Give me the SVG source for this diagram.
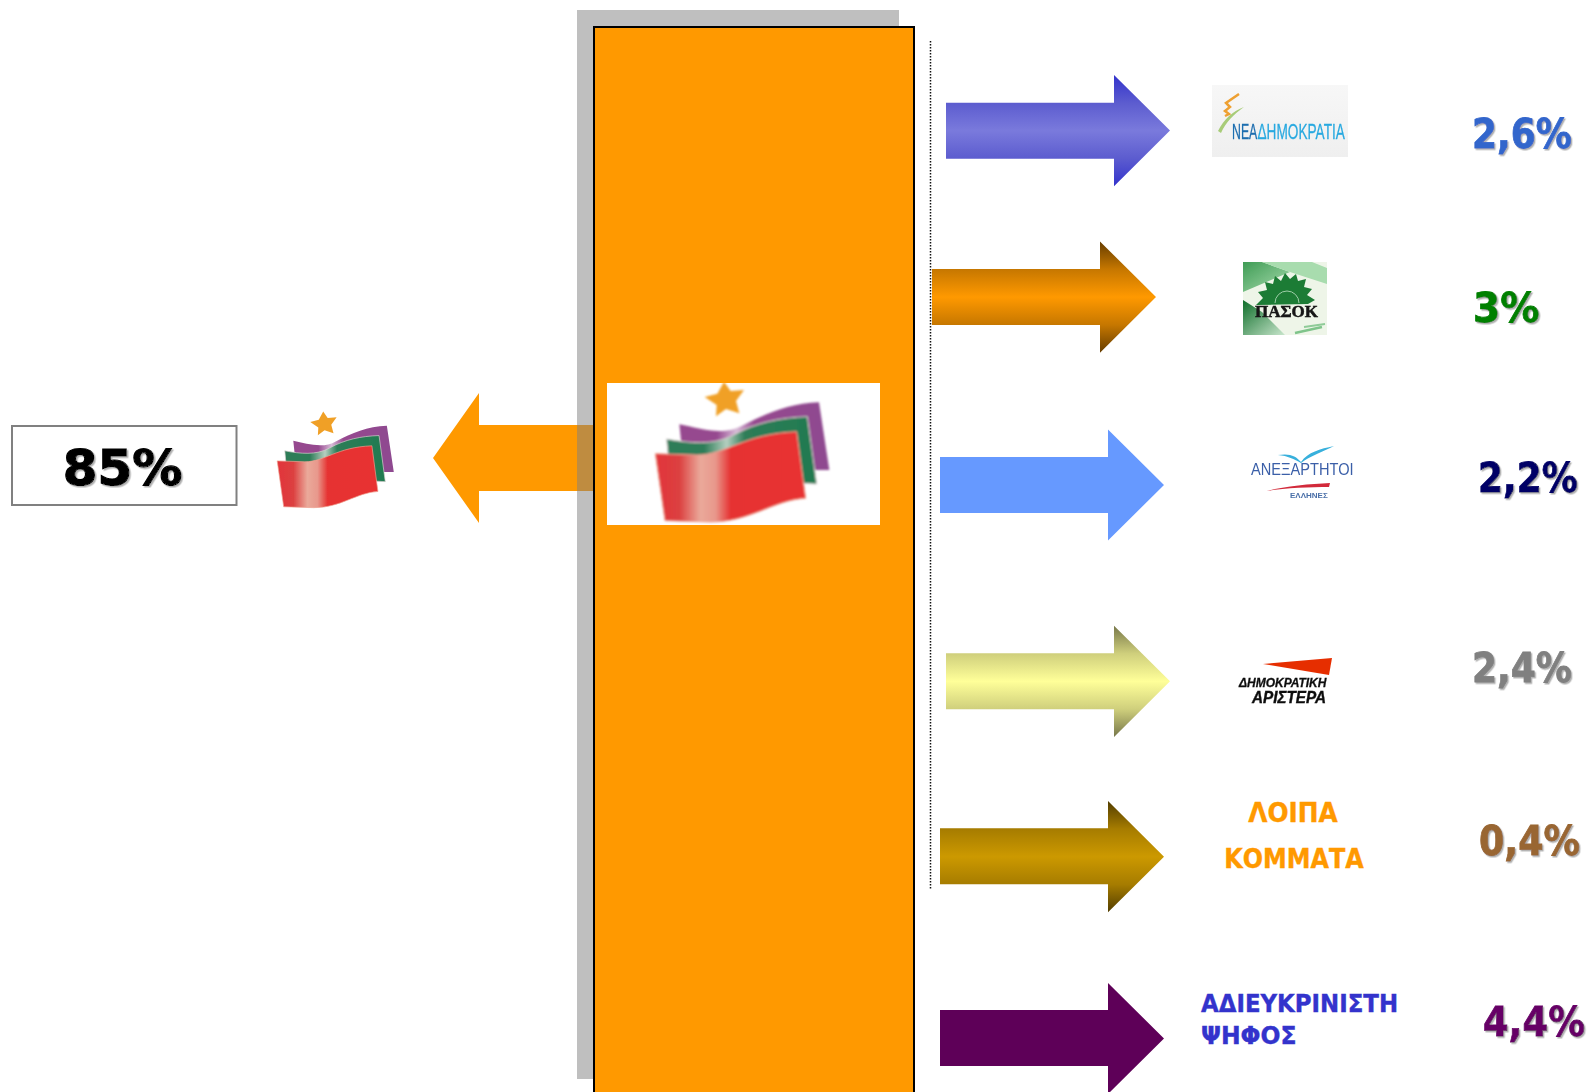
<svg xmlns="http://www.w3.org/2000/svg" width="1589" height="1092" viewBox="0 0 1589 1092">
<style>
.pct{font-family:"DejaVu Sans","Liberation Sans",sans-serif;font-weight:700;font-size:40px;fill:currentColor;stroke:currentColor;stroke-width:0.8px;filter:url(#sh)}
.lab{font-family:"DejaVu Sans","Liberation Sans",sans-serif;font-weight:700;fill:currentColor;stroke:currentColor;stroke-width:0.4px}
</style>
<defs>
<filter id="sh" x="-10%" y="-10%" width="125%" height="130%"><feDropShadow dx="1.500" dy="1.500" stdDeviation="0.5" flood-color="#b0b0b0"/></filter>
<filter id="soft" x="-5%" y="-5%" width="110%" height="110%"><feGaussianBlur stdDeviation="2.500"/></filter>
<filter id="soft2" x="-5%" y="-5%" width="110%" height="110%"><feGaussianBlur stdDeviation="0.4"/></filter>
<linearGradient id="g1" x1="0" y1="0" x2="0" y2="1"><stop offset="0" stop-color="#3333cc"/><stop offset="0.25" stop-color="#5c5ccf"/><stop offset="0.5" stop-color="#7a7adc"/><stop offset="0.75" stop-color="#5c5ccf"/><stop offset="1" stop-color="#3333cc"/></linearGradient>
<linearGradient id="g2" x1="0" y1="0" x2="0" y2="1"><stop offset="0" stop-color="#663d00"/><stop offset="0.25" stop-color="#c67700"/><stop offset="0.5" stop-color="#ff9900"/><stop offset="0.75" stop-color="#c67700"/><stop offset="1" stop-color="#663d00"/></linearGradient>
<linearGradient id="g4" x1="0" y1="0" x2="0" y2="1"><stop offset="0" stop-color="#77774a"/><stop offset="0.25" stop-color="#cfcf7c"/><stop offset="0.5" stop-color="#ffff99"/><stop offset="0.75" stop-color="#cfcf7c"/><stop offset="1" stop-color="#77774a"/></linearGradient>
<linearGradient id="g5" x1="0" y1="0" x2="0" y2="1"><stop offset="0" stop-color="#523d00"/><stop offset="0.25" stop-color="#a67c00"/><stop offset="0.5" stop-color="#cc9900"/><stop offset="0.75" stop-color="#a67c00"/><stop offset="1" stop-color="#523d00"/></linearGradient>
<linearGradient id="nd" x1="0" y1="0" x2="0" y2="1"><stop offset="0" stop-color="#f7f7f7"/><stop offset="1" stop-color="#efefef"/></linearGradient>
<linearGradient id="redg" gradientUnits="userSpaceOnUse" x1="166" y1="0" x2="617" y2="0"><stop offset="0" stop-color="#e2343a"/><stop offset="0.16" stop-color="#dc4040"/><stop offset="0.3" stop-color="#eaa99a"/><stop offset="0.4" stop-color="#e8988c"/><stop offset="0.5" stop-color="#e63333"/><stop offset="1" stop-color="#e83232"/></linearGradient>
<linearGradient id="purg" gradientUnits="userSpaceOnUse" x1="238" y1="0" x2="688" y2="0"><stop offset="0" stop-color="#96488f"/><stop offset="0.25" stop-color="#96488f"/><stop offset="0.38" stop-color="#d8bcd8"/><stop offset="0.5" stop-color="#96488f"/><stop offset="1" stop-color="#8e4a90"/></linearGradient>
<linearGradient id="grng" gradientUnits="userSpaceOnUse" x1="200" y1="0" x2="650" y2="0"><stop offset="0" stop-color="#2e7d58"/><stop offset="0.25" stop-color="#2e7d58"/><stop offset="0.4" stop-color="#b5cfc0"/><stop offset="0.52" stop-color="#2e7d58"/><stop offset="1" stop-color="#217a50"/></linearGradient>
<linearGradient id="pg1" x1="0" y1="0" x2="1" y2="1"><stop offset="0" stop-color="#3f9c55"/><stop offset="1" stop-color="#a8dcae"/></linearGradient>
<linearGradient id="pg2" x1="0" y1="0" x2="1" y2="1"><stop offset="0" stop-color="#0f6e2a"/><stop offset="1" stop-color="#c8e6cc"/></linearGradient>
<g id="flag">
<path d="M372,20 L392,48 L432,45 L408,78 L418,115 L378,102 L348,124 L350,90 L314,66 L352,56 Z" fill="#f0a028"/>
<path d="M238,148 C300,160 370,185 430,150 C500,115 570,85 657,82 L688,285 L640,285 L245,215 Z" fill="url(#purg)"/>
<path d="M200,192 C270,205 340,212 400,180 C470,142 540,128 622,125 L650,327 L610,325 L205,245 Z" fill="url(#grng)" stroke="#d9d0d0" stroke-width="3"/>
<path d="M166,236 L290,240 C380,240 430,176 590,170 L617,370 C520,375 450,442 330,441 L195,437 Z" fill="url(#redg)" stroke="#eea090" stroke-width="3"/>
</g>
</defs>
<rect width="1589" height="1092" fill="#ffffff"/>
<g id="connectors">
<path id="arrow-left" d="M594,425 H479 V393 L433,458 L479,523 V491 H594 Z" fill="#ff9900"/>
<path id="arrow-nd" d="M946,102.700 H1114 V75 L1170,130.600 L1114,186.300 V158.700 H946 Z" fill="url(#g1)"/>
<path id="arrow-pasok" d="M932,269 H1100 V241.500 L1156,297 L1100,352.700 V325 H932 Z" fill="url(#g2)"/>
<path id="arrow-anel" d="M940,457 H1108 V429.500 L1164,485 L1108,540.500 V513 H940 Z" fill="#6699ff"/>
<path id="arrow-dimar" d="M946,653.300 H1114 V625.700 L1170,681.300 L1114,737 V709.300 H946 Z" fill="url(#g4)"/>
<path id="arrow-other" d="M940,828.300 H1108 V801 L1164,856.700 L1108,912.300 V884.300 H940 Z" fill="url(#g5)"/>
<path id="arrow-blank" d="M940,1010 H1108 V983 L1164,1038.500 L1108,1094 V1066 H940 Z" fill="#5e0058"/>
<line id="divider" x1="930.500" y1="41" x2="930.500" y2="890" stroke="#111111" stroke-width="1.500" stroke-dasharray="1.500 1.500"/>
</g>
<g id="bar">
<rect x="577" y="10" width="322" height="1069" fill="#808080" fill-opacity="0.5"/>
<rect x="594" y="27" width="320" height="1075" fill="#ff9900" stroke="#000000" stroke-width="2"/>
<rect x="607" y="383" width="273" height="142" fill="#ffffff"/>
<svg x="607" y="383" width="273" height="142" viewBox="21 24 819 426"><use href="#flag" filter="url(#soft)"/></svg>
</g>
<g id="result-box">
<rect x="12" y="426" width="224.500" height="79" fill="#ffffff" stroke="#808080" stroke-width="2"/>
<text x="122.500" y="485" text-anchor="middle" class="pct" style="font-size:50px;color:#000000;stroke-width:1.200px">85%</text>
</g>
<g id="flag-small" transform="translate(240.150,407) scale(0.2233,0.2283)"><use href="#flag" filter="url(#soft)"/></g>
<g id="node-nd">
<rect x="1212" y="85" width="136" height="72" fill="url(#nd)"/>
<g filter="url(#soft2)">
<path d="M1239,94 L1226,103 L1230,107 L1225,111 L1229,114 L1225,116" fill="none" stroke="#eea030" stroke-width="2.500"/>
<path d="M1218,131 C1224,119 1233,111 1244,107 C1234,114 1226,122 1221,133 Z" fill="#a8cc78"/>
<text transform="translate(1232,139) scale(0.56,1)" font-family="'Liberation Sans',sans-serif" font-size="22" fill="#1f6fb0" stroke="#1f6fb0" stroke-width="0.3">ΝΕΑ</text>
<text transform="translate(1257.500,139) scale(0.62,1)" font-family="'Liberation Sans',sans-serif" font-size="22" fill="#29a9e0" stroke="#29a9e0" stroke-width="0.3">ΔΗΜΟΚΡΑΤΙΑ</text>
</g>
</g>
<g id="node-pasok">
<rect x="1243" y="262" width="84" height="73" fill="#eef5e8"/>
<g filter="url(#soft2)">
<path d="M1243,262 H1262 L1290,272 L1243,292 Z" fill="url(#pg1)"/>
<path d="M1262,262 H1312 L1327,268 V284 L1290,272 Z" fill="#a8dcae"/>
<path d="M1243,300 L1262,312 L1285,335 H1243 Z" fill="url(#pg2)"/>
<path d="M1295,333 L1322,327" stroke="#7fc48a" stroke-width="2.500"/>
<path d="M1304,327 L1325,324" stroke="#8fcb98" stroke-width="2"/>
<path d="M1256,305 L1263,298 L1258,292 L1267,290 L1265,282 L1273,284 L1275,276 L1281,281 L1285,273 L1290,279 L1296,274 L1298,281 L1306,279 L1304,287 L1312,289 L1307,295 L1315,300 L1308,304 Z" fill="#1c7c34"/>
<path d="M1275,303 A12,12 0 0 1 1299,303" fill="none" stroke="#9ecda8" stroke-width="1"/>
<text x="1255" y="317" font-family="'Liberation Serif',serif" font-weight="700" font-size="17" fill="#141414" stroke="#141414" stroke-width="0.5">ΠΑΣΟΚ</text>
</g>
</g>
<g id="node-anel" filter="url(#soft2)">
<path d="M1278,455 C1290,453 1296,456 1301,462 C1308,452 1320,449 1334,446 C1322,452 1310,456 1301,463 C1294,459 1288,456 1278,455 Z" fill="#38b0dc"/>
<text transform="translate(1251,475) scale(0.86,1)" font-family="'Liberation Sans',sans-serif" font-size="17" fill="#3a5fa8">ΑΝΕΞΑΡΤΗΤΟΙ</text>
<path d="M1267,491 C1285,486 1310,484 1330,483 L1329,487 C1310,487 1285,488 1267,491 Z" fill="#d22a3a"/>
<text x="1290" y="498" font-family="'Liberation Sans',sans-serif" font-weight="700" font-size="8" fill="#4a6fa8">ΕΛΛΗΝΕΣ</text>
</g>
<g id="node-dimar" filter="url(#soft2)">
<path d="M1263,664 L1332,658 L1329,675 Z" fill="#e62e05"/>
<text x="1239" y="687" font-family="'Liberation Sans',sans-serif" font-weight="700" font-style="italic" font-size="12" fill="#111111" stroke="#111111" stroke-width="0.3">ΔΗΜΟΚΡΑΤΙΚΗ</text>
<text transform="translate(1252,703) scale(0.9,1)" font-family="'Liberation Sans',sans-serif" font-weight="700" font-style="italic" font-size="17" fill="#111111" stroke="#111111" stroke-width="0.4">ΑΡΙΣΤΕΡΑ</text>
</g>
<g id="node-other">
<text transform="translate(1293,822) scale(0.92,1)" text-anchor="middle" class="lab" font-size="27" style="color:#ff9900">ΛΟΙΠΑ</text>
<text transform="translate(1294,868) scale(0.885,1)" text-anchor="middle" class="lab" font-size="27" style="color:#ff9900">ΚΟΜΜΑΤΑ</text>
</g>
<g id="node-blank">
<text transform="translate(1201,1012) scale(0.915,1)" class="lab" font-size="25" style="color:#3333cc">ΑΔΙΕΥΚΡΙΝΙΣΤΗ</text>
<text transform="translate(1201,1044) scale(0.94,1)" class="lab" font-size="25" style="color:#3333cc">ΨΗΦΟΣ</text>
</g>
<g id="percentages">
<text transform="translate(1472,148) scale(0.9,1)" class="pct" style="color:#3366cc">2,6%</text>
<text transform="translate(1473,322) scale(0.98,1)" class="pct" style="color:#008000">3%</text>
<text transform="translate(1478,492) scale(0.9,1)" class="pct" style="color:#000066">2,2%</text>
<text transform="translate(1472,682) scale(0.9,1)" class="pct" style="color:#808080">2,4%</text>
<text transform="translate(1479,855) scale(0.91,1)" class="pct" style="color:#996633">0,4%</text>
<text transform="translate(1483,1036) scale(0.92,1)" class="pct" style="color:#660066">4,4%</text>
</g>
</svg>
